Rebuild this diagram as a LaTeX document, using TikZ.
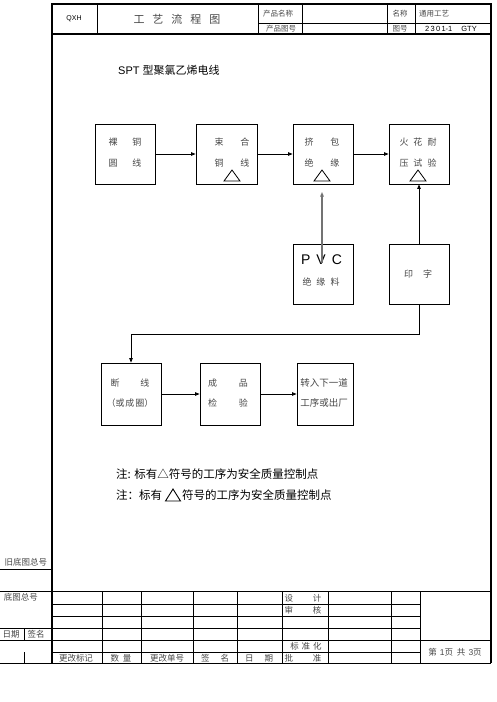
\documentclass[tikz,border=0pt]{standalone}
\usepackage{fontspec}
\setmainfont{Liberation Sans}
\newfontfamily\cjk{Noto Sans CJK SC}
\usetikzlibrary{arrows.meta}
\begin{document}
\begin{tikzpicture}[x=1pt,y=-1pt,
  box/.style={draw, line width=0.8pt, minimum width=60pt, minimum height=60pt, inner sep=0pt},
  arr/.style={-{Triangle[length=4.5pt,width=3.5pt]}, line width=0.8pt},
  ln/.style={line width=0.7pt},
  fr/.style={line width=1.5pt},
  tri/.style={line width=0.8pt},
  bt/.style={font=\cjk\fontsize{9}{9}\selectfont, text=black!72, inner sep=0pt},
  ht/.style={font=\cjk\fontsize{7.5}{7.5}\selectfont, text=black!72, inner sep=0pt},
  ft/.style={font=\cjk\fontsize{8.5}{8.5}\selectfont, text=black!72, inner sep=0pt},
  lt/.style={font=\fontsize{7}{7}\selectfont, inner sep=0pt},
  nt/.style={font=\cjk\fontsize{11.5}{11.5}\selectfont, inner sep=0pt, anchor=west}]
\useasboundingbox (0,0) rectangle (496,702);
% ---------- frame ----------
\draw[fr] (52,663) -- (52,4) -- (491,4) -- (491,663);
\draw[fr] (52,34) -- (491,34);
\draw[ln] (97,4) -- (97,34);
\draw[ln] (258,4) -- (258,34);
\draw[ln] (302,4) -- (302,34);
\draw[ln] (387,4) -- (387,34);
\draw[ln] (415,4) -- (415,34);
\draw[ln] (258,23) -- (491,23);
\node[lt] (hqxh) at (74,19) {QXH};
\node[ht, font=\cjk\fontsize{11}{11}\selectfont] (htitle) at (177,19) {工\hspace{8pt}艺\hspace{8pt}流\hspace{8pt}程\hspace{8pt}图};
\node[ht] (hpm) at (278,14) {产品名称};
\node[ht] (hpt) at (281,29) {产品图号};
\node[ht] (hmc) at (400,14) {名称};
\node[ht] (htg) at (434,14) {通用工艺};
\node[ht] (hth) at (400,29) {图号};
\node[lt, font=\fontsize{7.5}{7.5}\selectfont] (hnum) at (451,29) {2\,3\,0\,1-1\hspace{9pt}GTY};
% ---------- title ----------
\node[font=\fontsize{11}{11}\selectfont, inner sep=0pt, anchor=west] (title) at (118,70) {SPT {\cjk 型聚氯乙烯电线}};
% ---------- row 1 ----------
\node[box] (b1) at (125,154) {};
\node[box, minimum width=61pt] (b2) at (226.5,154) {};
\node[box] (b3) at (323,154) {};
\node[box] (b4) at (419,154) {};
\node[bt] (t1a) at (125,142) {裸\hspace{15pt}铜};
\node[bt] (t1b) at (125,163) {圆\hspace{15pt}线};
\node[bt] (t2a) at (232,142) {束\hspace{17pt}合};
\node[bt] (t2b) at (232,163) {铜\hspace{17pt}线};
\node[bt] (t3a) at (322,142) {挤\hspace{17pt}包};
\node[bt] (t3b) at (322,163) {绝\hspace{17pt}缘};
\node[bt] (t4a) at (418,142) {火\hspace{5pt}花\hspace{5pt}耐};
\node[bt] (t4b) at (418,163) {压\hspace{5pt}试\hspace{5pt}验};
\draw[tri] (232,170) -- (224,181) -- (240,181) -- cycle;
\draw[tri] (322,170) -- (314,181) -- (330,181) -- cycle;
\draw[tri] (418,170) -- (410,181) -- (426,181) -- cycle;
\draw[arr] (b1.east) -- (b2.west);
\draw[arr] (b2.east) -- (b3.west);
\draw[arr] (b3.east) -- (b4.west);
% ---------- row 2 ----------
\node[box] (pvc) at (323,274) {};
\node[box] (yz) at (419,274) {};
\node[font=\fontsize{14}{14}\selectfont, inner sep=0pt] (tpvc) at (321.5,260) {P\hspace{6pt}V\hspace{6pt}C};
\node[bt] (tjyl) at (321,282) {绝\hspace{5pt}缘\hspace{5pt}料};
\node[bt] (tyz) at (418,274) {印\hspace{10pt}字};
\coordinate (pvcs) at (322,263);
\coordinate (pvce) at (322,192);
\draw[arr, draw=black!55, fill=black, line width=1.3pt] (pvcs) -- (pvce);
\draw[arr] (yz.north) -- (b4.south);
% ---------- row 3 ----------
\node[box, minimum height=62pt] (d1) at (131,394) {};
\node[box, minimum height=62pt] (d2) at (230,394) {};
\node[box, minimum height=62pt, minimum width=56pt] (d3) at (325,394) {};
\coordinate (turn) at (419,334);
\draw[arr] (yz.south) -- (turn) -| (d1.north);
\node[bt] (t5a) at (130,383) {断\hspace{21pt}线};
\node[bt] (t5b) at (130,403) {（或\hspace{1pt}成\hspace{1pt}圈）};
\node[bt] (t6a) at (228,383) {成\hspace{22pt}品};
\node[bt] (t6b) at (228,403) {检\hspace{22pt}验};
\node[bt, font=\cjk\fontsize{9.5}{9.5}\selectfont] (t7a) at (324,383) {转入下一道};
\node[bt, font=\cjk\fontsize{9.5}{9.5}\selectfont] (t7b) at (324,403) {工序或出厂};
\draw[arr] (d1.east) -- (d2.west);
\draw[arr] (d2.east) -- (d3.west);
% ---------- notes ----------
\node[nt] (n1) at (116,474) {注: 标有△符号的工序为安全质量控制点};
\node[nt] (n2a) at (116,495) {注：标有};
\draw[line width=0.9pt] (173,489) -- (165.5,501) -- (180.5,501) -- cycle;
\node[nt] (n2b) at (182,495) {符号的工序为安全质量控制点};
% ---------- bottom table ----------
\draw[ln] (0,569) -- (52,569);
\draw[ln] (0,591) -- (491,591);
\draw[ln] (52,604) -- (420,604);
\draw[ln] (52,616) -- (420,616);
\draw[ln] (0,628) -- (420,628);
\draw[ln] (0,640) -- (491,640);
\draw[ln] (52,652) -- (420,652);
\draw[line width=1pt] (0,663) -- (491,663);
\draw[ln] (24,628) -- (24,640);
\draw[ln] (24,652) -- (24,663);
\foreach \xx in {102,141,193,237,282,328,391,420} {
  \draw[ln] (\xx,591) -- (\xx,663);
}
\node[ft] (ljd) at (26,562) {旧底图总号};
\node[ft] (ldt) at (21,597) {底图总号};
\node[ft] (lrq) at (11,634) {日期};
\node[ft] (lqm) at (36,634) {签名};
\node[ft] (c1) at (76,658) {更改标记};
\node[ft] (c2) at (121,658) {数\hspace{4pt}量};
\node[ft] (c3) at (167,658) {更改单号};
\node[ft] (c4) at (215,658) {签\hspace{11pt}名};
\node[ft] (c5) at (259,658) {日\hspace{11pt}期};
\node[ft] (c6) at (303,658) {批\hspace{20pt}准};
\node[ft] (s1) at (303,598) {设\hspace{20pt}计};
\node[ft] (s2) at (303,610) {审\hspace{20pt}核};
\node[ft] (s3) at (306,646) {标\hspace{3pt}准\hspace{3pt}化};
\node[ft] (pg) at (455,652) {第\hspace{3pt}{\fontspec{Liberation Sans}1}页\hspace{4pt}共\hspace{3pt}{\fontspec{Liberation Sans}3}页};
\end{tikzpicture}
\end{document}
